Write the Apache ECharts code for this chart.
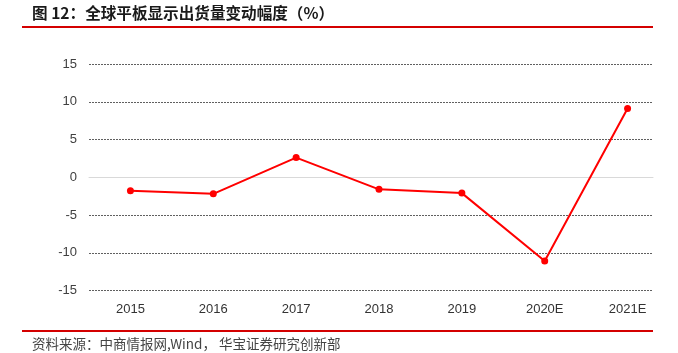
<!DOCTYPE html>
<html>
<head>
<meta charset="utf-8">
<script src="https://cdn.jsdelivr.net/npm/echarts@6/dist/echarts.min.js"></script>
<style>
html, body { margin: 0; padding: 0; background: #fff; }
#main { width: 678px; height: 353px; }
</style>
</head>
<body>
<div id="main"></div>
<script>
var years = ['2015', '2016', '2017', '2018', '2019', '2020E', '2021E'];
var change = [-1.8, -2.2, 2.6, -1.6, -2.1, -11.1, 9.1];
var yTicks = [-15, -10, -5, 0, 5, 10, 15];

var chart = echarts.init(document.getElementById('main'));

// dashed split lines everywhere except at zero (solid axis line there)
var splitColors = yTicks.map(function (v) { return v === 0 ? 'rgba(0,0,0,0)' : '#606060'; });

var option = {
    animation: false,
    backgroundColor: '#fff',
    textStyle: { fontFamily: 'Liberation Sans, Arial, sans-serif' },
    graphic: [
        {
            type: 'text', left: 32, top: 5,
            style: {
                text: '图 12：全球平板显示出货量变动幅度（%）',
                font: 'bold 15.6px "Noto Sans CJK SC", sans-serif',
                fill: '#1a1a1a'
            }
        },
        { type: 'line', shape: { x1: 22, y1: 27, x2: 653, y2: 27 }, style: { stroke: '#d40000', lineWidth: 2 } },
        { type: 'line', shape: { x1: 22, y1: 331, x2: 653, y2: 331 }, style: { stroke: '#d40000', lineWidth: 2 } },
        {
            type: 'text', left: 32, top: 337,
            style: {
                text: '资料来源：中商情报网,Wind， 华宝证券研究创新部',
                font: '13.5px "Noto Sans CJK SC", sans-serif',
                fill: '#444'
            }
        }
    ],
    grid: [
        { left: 89, right: 25, top: 64, bottom: 62.5 },
        { left: 89, right: 9, top: 64, bottom: 62.5 }
    ],
    xAxis: [
        {
            gridIndex: 0, type: 'category', data: years,
            axisLine: { onZero: true, lineStyle: { color: '#d9d9d9', width: 1 } },
            axisTick: { show: false }, axisLabel: { show: false }
        },
        {
            gridIndex: 1, type: 'category', data: years, position: 'bottom',
            axisLine: { show: false, onZero: false }, axisTick: { show: false },
            axisLabel: { color: '#333', fontSize: 13, margin: 12 }
        }
    ],
    yAxis: [
        {
            gridIndex: 0, type: 'value', min: -15, max: 15, interval: 5,
            axisLine: { show: false }, axisTick: { show: false },
            axisLabel: { color: '#404040', fontSize: 13, margin: 12 },
            splitLine: { lineStyle: { type: [2, 1], color: splitColors, width: 1 } }
        },
        {
            gridIndex: 1, type: 'value', min: -15, max: 15, interval: 5,
            axisLine: { show: false }, axisTick: { show: false },
            axisLabel: { show: false }, splitLine: { show: false }
        }
    ],
    series: [{
        type: 'line',
        xAxisIndex: 1,
        yAxisIndex: 1,
        data: change,
        symbol: 'circle',
        symbolSize: 7,
        lineStyle: { color: '#ff0000', width: 2 },
        itemStyle: { color: '#ff0000' }
    }]
};

chart.setOption(option);
</script>
</body>
</html>
